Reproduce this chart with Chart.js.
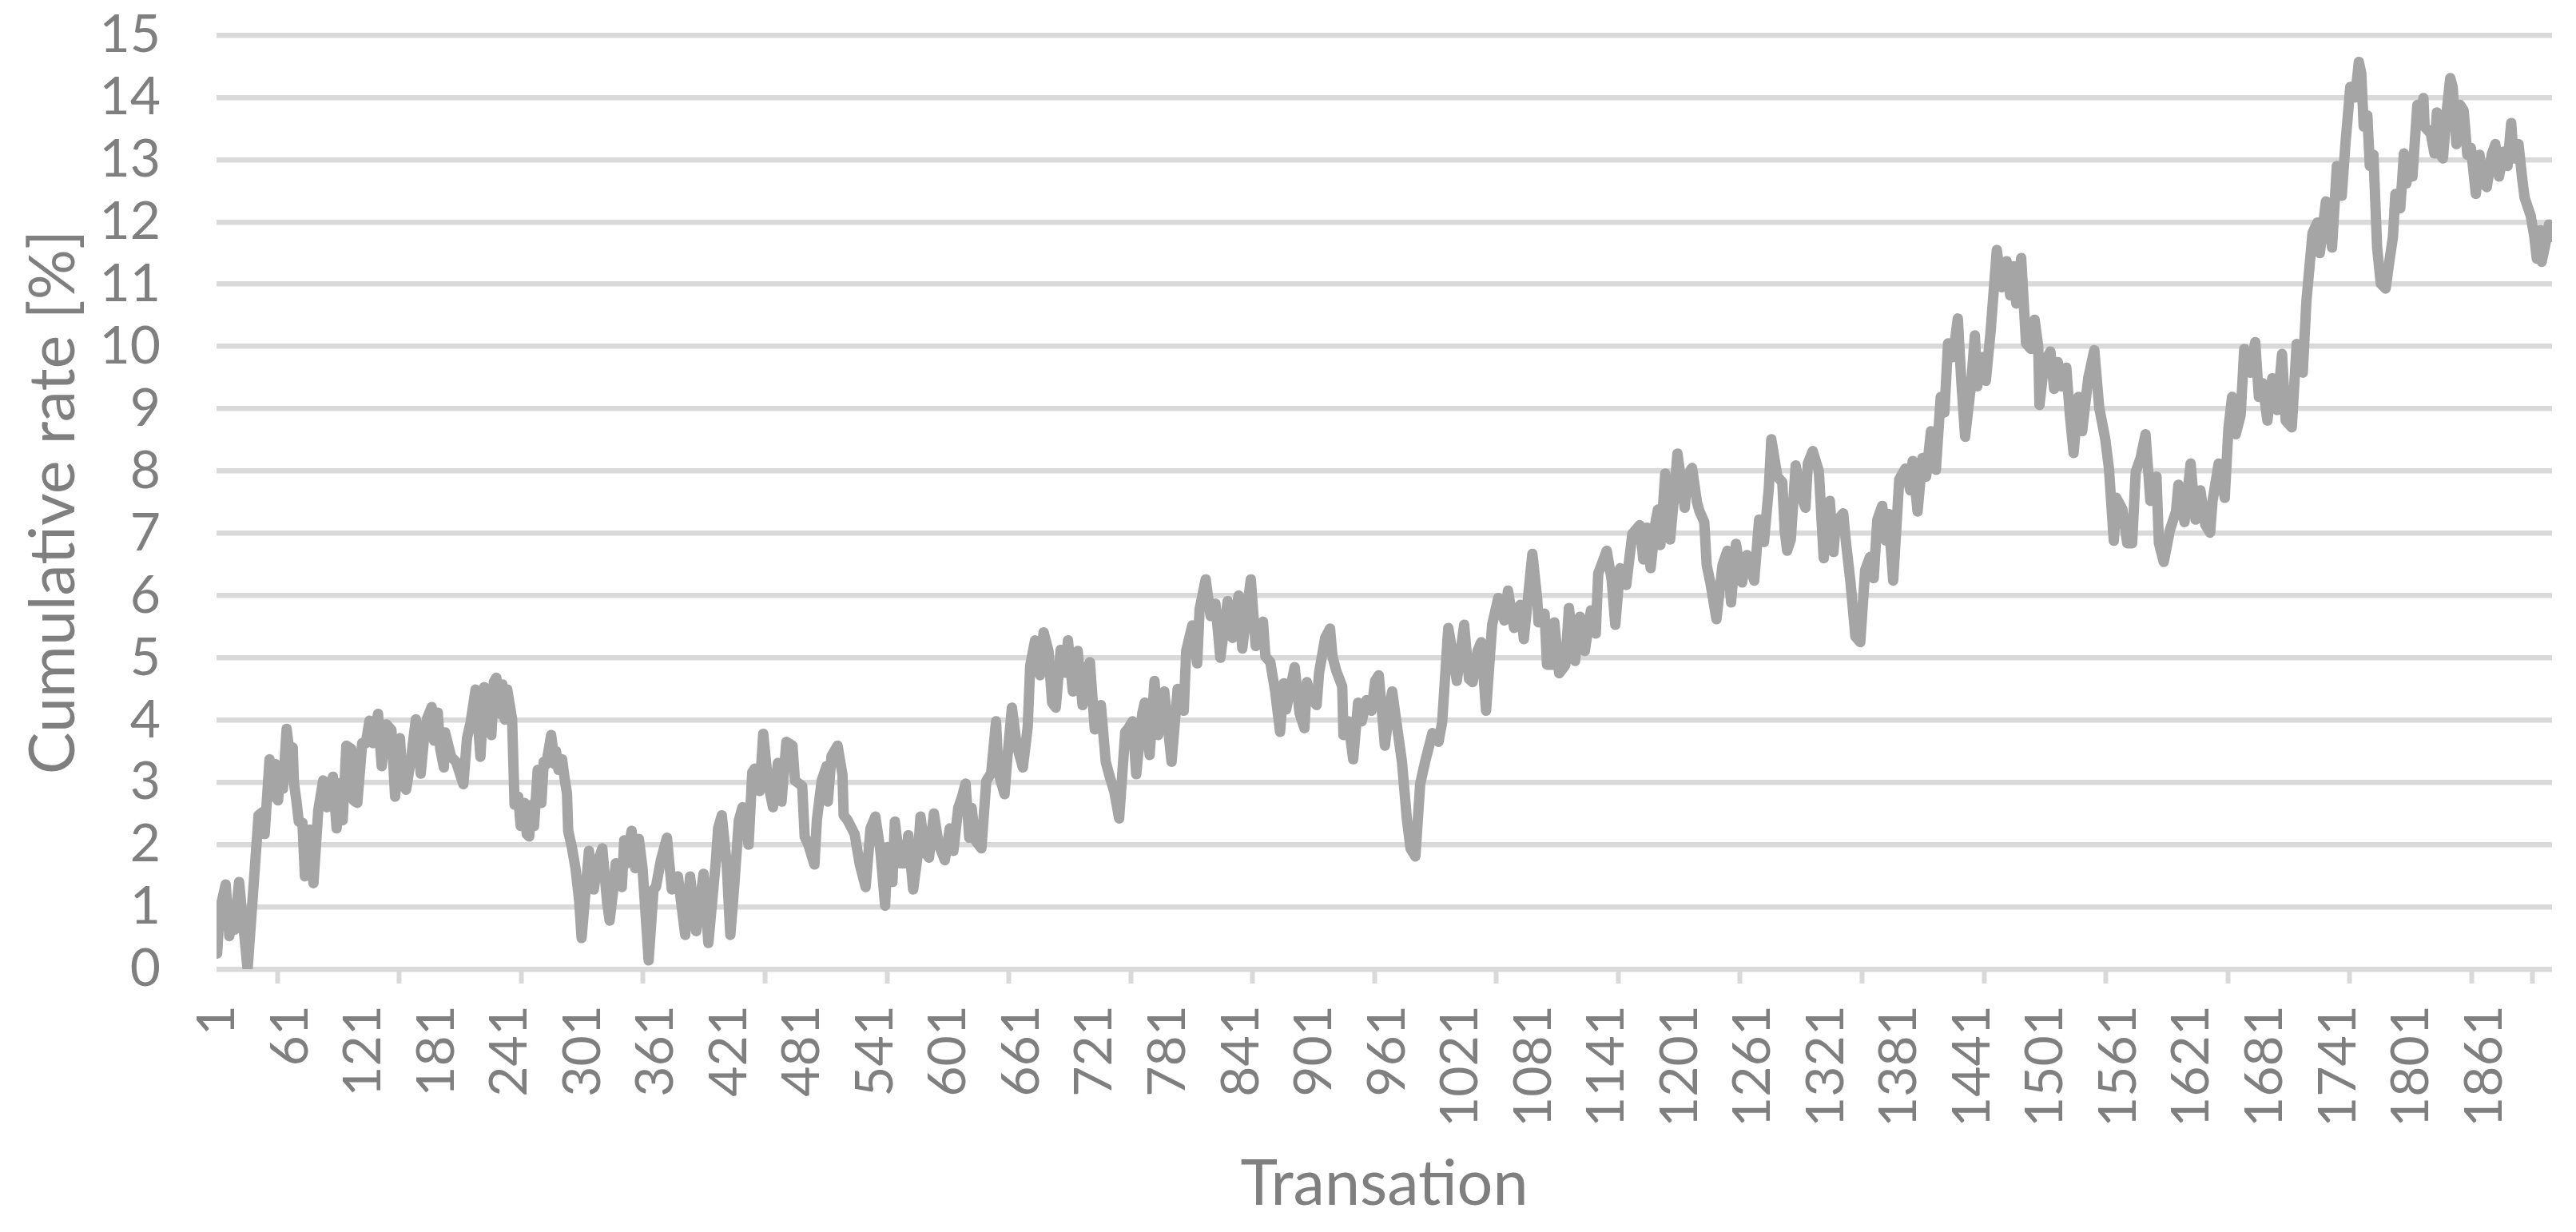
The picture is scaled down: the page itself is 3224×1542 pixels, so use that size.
<!DOCTYPE html>
<html>
<head>
<meta charset="utf-8">
<title>Cumulative rate</title>
<script src="https://cdn.jsdelivr.net/npm/chart.js@4.4.1/dist/chart.umd.min.js"></script>
<style>
  html, body { margin: 0; padding: 0; background: #fff; }
  canvas { display: block; }
</style>
</head>
<body>
<canvas id="rateChart" width="3224" height="1542"></canvas>
<script>
// transaction number and cumulative rate [%] (turning points)
const transaction = [
  1, 3, 8, 11, 13, 15, 19, 22, 26, 35, 38, 40, 44, 47, 49, 51, 53, 55, 58, 60,
  63, 64, 66, 68, 71, 73, 77, 80, 84, 88, 91, 93, 96, 99, 102, 104, 107, 111, 113, 116,
  120, 123, 126, 129, 133, 136, 140, 144, 147, 151, 153, 156, 160, 164, 166, 168, 171, 173, 177, 179,
  182, 184, 187, 188, 193, 197, 203, 206, 209, 213, 217, 220, 223, 226, 228, 230, 233, 235, 237, 239,
  243, 245, 248, 250, 253, 255, 257, 259, 261, 264, 267, 269, 271, 275, 278, 279, 281, 284, 286, 288,
  289, 292, 295, 298, 300,
  306, 310, 313, 317, 321, 323, 326, 328, 333, 335, 337, 341, 344, 347, 350, 355, 359, 361, 365, 370,
  374, 379, 385, 389, 394, 400, 404, 410, 412, 415, 419, 422, 425, 429, 432, 437, 440, 442, 446, 449,
  453, 457, 461, 464, 468, 473, 475, 481, 483, 486, 491, 493, 497, 501, 502, 505, 510, 514, 515, 518,
  524, 528, 533, 537, 541, 545, 549, 551, 555, 557, 561, 565, 568, 572, 576, 578, 582, 585, 589, 593,
  598, 602,
  605, 609, 612, 615, 618, 620, 623, 628, 632, 636, 640, 642, 647, 649, 653, 657, 662, 666, 668, 672,
  676, 679, 683, 686, 689, 693, 697, 699, 703, 707, 711, 713, 717, 721, 726, 730, 733, 737, 741, 746,
  748, 752, 755, 760, 762, 766, 770, 773, 778, 784, 789, 794, 796, 801, 805, 807, 812, 816, 820, 824,
  830, 834, 839, 842, 849, 853, 859, 861, 865, 869, 873, 876, 878, 885, 889, 893, 895, 899, 903, 905,
  910, 914, 916, 919, 924, 925, 929, 933, 937, 940, 944, 948, 951, 954, 959, 963, 965, 969, 973, 977,
  980, 984, 988,
  992, 998, 1003, 1006, 1011, 1015, 1018, 1024, 1028, 1031, 1035, 1038, 1042, 1047, 1052, 1057, 1060, 1065, 1070, 1073,
  1080, 1084, 1085, 1090, 1092, 1096, 1098, 1102, 1107, 1110, 1115, 1119, 1123, 1128, 1132, 1134, 1141, 1145, 1148, 1152,
  1157, 1162, 1168, 1171, 1174, 1177, 1181, 1183, 1185, 1189, 1193, 1196, 1199, 1205, 1207, 1211, 1215, 1217, 1221, 1223,
  1226, 1231, 1236, 1240, 1243, 1247, 1252, 1256, 1262, 1266, 1270, 1274, 1276, 1281, 1285, 1287, 1289, 1292, 1296, 1300,
  1304, 1306, 1310, 1315, 1319, 1324, 1327, 1329, 1335, 1337, 1341, 1345, 1349,
  1353, 1357, 1360, 1363, 1367, 1370, 1372, 1376, 1381, 1386, 1390, 1392, 1396, 1400, 1403, 1407, 1411, 1415, 1418, 1421,
  1425, 1429, 1432, 1435, 1440, 1443, 1445, 1449, 1452, 1456, 1461, 1465, 1469, 1472, 1475, 1477, 1481, 1484, 1485, 1489,
  1492, 1495, 1496, 1500, 1505, 1508, 1511, 1514, 1518, 1521, 1524, 1528, 1531, 1536, 1541, 1545, 1550, 1553, 1557, 1559,
  1564, 1568, 1572, 1575, 1579, 1583, 1587, 1592, 1594, 1598, 1603, 1608, 1610, 1615, 1620, 1624, 1628, 1632, 1636, 1638,
  1643, 1648, 1651, 1654, 1657, 1661, 1664, 1669, 1673, 1676, 1679, 1683, 1687, 1691, 1695, 1698, 1703,
  1707, 1712, 1715, 1720, 1724, 1726, 1731, 1736, 1740, 1744, 1747, 1751, 1755, 1758, 1760, 1762, 1765, 1767, 1770, 1773,
  1776, 1780, 1783, 1786, 1788, 1792, 1795, 1797, 1800, 1802, 1806, 1809, 1811, 1812, 1817, 1820, 1822, 1825, 1827, 1830,
  1833, 1835, 1838, 1841, 1844, 1847, 1850, 1854, 1857, 1860, 1863, 1867, 1870, 1873, 1877, 1880, 1883, 1885, 1889, 1892,
  1894, 1899, 1902, 1904, 1907, 1908, 1911, 1914, 1916
];
const rate = [
  0.25, 0.93, 1.36, 0.53, 1.02, 0.63, 1.40, 0.80, 0.00, 2.47, 2.52, 2.17, 3.37, 2.77, 3.29, 2.71, 3.24, 2.90, 3.86, 3.54,
  3.56, 2.99, 2.71, 2.37, 2.35, 1.49, 2.24, 1.38, 2.56, 3.03, 2.60, 2.82, 3.09, 2.26, 2.99, 2.39, 3.59, 3.54, 2.71, 2.67,
  3.63, 3.63, 3.99, 3.63, 4.10, 3.26, 3.93, 3.84, 2.77, 3.71, 2.99, 2.88, 3.37, 4.01, 3.63, 3.14, 3.76, 4.01, 4.21, 3.67,
  4.12, 3.54, 3.24, 3.80, 3.41, 3.33, 2.97, 3.71, 3.97, 4.49, 3.41, 4.53, 4.19, 3.76, 4.61, 4.68, 4.10, 4.57, 4.01, 4.49,
  4.01, 2.64, 2.77, 2.30, 2.67, 2.17, 2.13, 2.64, 2.30, 3.20, 2.67, 3.33, 3.29, 3.76, 3.29, 3.50, 3.20, 3.37, 3.07, 2.82,
  2.22, 1.96, 1.62, 1.10, 0.50,
  1.90, 1.28, 1.70, 1.94, 1.06, 0.78, 1.28, 1.70, 1.32, 2.07, 1.70, 2.22, 1.62, 2.09, 1.62, 0.14, 1.28, 1.32, 1.75, 2.11,
  1.28, 1.49, 0.55, 1.49, 0.61, 1.53, 0.42, 1.70, 2.26, 2.47, 1.70, 0.55, 1.28, 2.39, 2.60, 2.00, 3.16, 3.22, 2.86, 3.78,
  2.99, 2.60, 3.31, 2.69, 3.65, 3.59, 3.03, 2.94, 2.13, 2.00, 1.68, 2.39, 3.03, 3.26, 2.69, 3.42, 3.59, 3.12, 2.47, 2.40,
  2.17, 1.70, 1.32, 2.26, 2.45, 1.92, 1.02, 1.96, 1.40, 2.37, 1.70, 1.70, 2.15, 1.28, 1.87, 2.45, 1.87, 1.79, 2.50, 2.00,
  1.75, 2.26,
  1.90, 2.59, 2.76, 2.98, 2.11, 2.59, 2.07, 1.94, 3.02, 3.15, 3.98, 3.15, 2.81, 3.33, 4.20, 3.59, 3.24, 3.89, 4.87, 5.28,
  4.72, 5.41, 5.11, 4.28, 4.20, 5.13, 4.76, 5.28, 4.46, 5.11, 4.24, 4.76, 4.93, 3.85, 4.24, 3.33, 3.11, 2.85, 2.42, 3.81,
  3.85, 3.98, 3.13, 4.11, 4.28, 3.44, 4.63, 3.76, 4.46, 3.33, 4.50, 4.15, 5.11, 5.52, 4.91, 5.78, 6.26, 5.67, 5.87, 5.00,
  5.91, 5.32, 6.00, 5.15, 6.26, 5.19, 5.58, 5.02, 4.93, 4.46, 3.81, 4.59, 4.17, 4.85, 4.11, 3.87, 4.61, 4.33, 4.24, 4.76,
  5.32, 5.47, 5.02, 4.80, 4.54, 3.76, 3.98, 3.37, 4.28, 3.98, 4.32, 4.15, 4.63, 4.72, 3.59, 4.24, 4.46, 3.89, 3.33, 2.42,
  1.94, 1.81, 2.98,
  3.33, 3.79, 3.65, 3.97, 5.48, 5.02, 4.63, 5.53, 4.66, 4.61, 5.11, 5.25, 4.15, 5.53, 5.96, 5.60, 6.08, 5.48, 5.85, 5.30,
  6.67, 5.94, 5.57, 5.71, 4.89, 4.89, 5.57, 4.75, 4.88, 5.80, 4.95, 5.66, 5.11, 5.76, 5.39, 6.35, 6.72, 6.26, 5.53, 6.44,
  6.17, 6.99, 7.13, 6.58, 7.09, 6.44, 7.18, 7.38, 6.81, 7.96, 6.90, 7.54, 8.28, 7.41, 7.91, 8.05, 7.50, 7.36, 7.18, 6.49,
  6.21, 5.62, 6.49, 6.72, 5.89, 6.83, 6.21, 6.65, 6.24, 7.22, 6.86, 7.73, 8.51, 7.91, 7.82, 7.04, 6.72, 6.90, 8.09, 7.64,
  7.41, 8.12, 8.32, 8.00, 6.60, 7.52, 6.70, 7.18, 7.32, 6.90, 6.21, 5.34, 5.25,
  6.41, 6.62, 6.28, 7.22, 7.44, 6.88, 7.31, 6.24, 7.87, 8.04, 7.69, 8.16, 7.35, 8.21, 7.91, 8.64, 8.02, 9.19, 8.94, 10.05,
  9.83, 10.45, 9.41, 8.55, 9.41, 10.18, 9.36, 9.83, 9.45, 10.26, 11.55, 10.95, 11.37, 10.82, 11.29, 10.69, 11.42, 10.39, 10.05, 9.96,
  10.43, 10.00, 9.06, 9.75, 9.92, 9.32, 9.75, 9.36, 9.66, 8.89, 8.29, 9.19, 8.64, 9.49, 9.94, 9.02, 8.51, 8.04, 6.88, 7.57,
  7.39, 6.84, 6.84, 7.99, 8.21, 8.59, 7.52, 7.91, 6.84, 6.54, 7.05, 7.35, 7.78, 7.18, 8.12, 7.22, 7.69, 7.14, 7.01, 7.52,
  8.12, 7.57, 8.68, 9.19, 8.59, 8.89, 9.96, 9.58, 10.07, 9.19, 9.41, 8.81, 9.49, 8.98, 9.88, 8.81, 8.70,
  10.04, 9.58, 10.73, 11.82, 11.99, 11.50, 12.33, 11.59, 12.90, 12.42, 13.25, 14.17, 14.00, 14.57, 14.39, 13.53, 13.71, 12.90, 13.08, 11.59,
  11.01, 10.93, 11.36, 11.76, 12.45, 12.22, 13.10, 12.62, 13.02, 12.73, 13.88, 13.59, 13.99, 13.53, 13.42, 13.10, 13.76, 13.08, 13.02, 13.76,
  14.31, 14.17, 13.25, 13.88, 13.79, 13.08, 13.19, 12.45, 13.08, 12.62, 12.56, 13.08, 13.25, 12.73, 13.13, 12.90, 13.59, 13.02, 13.25, 12.70,
  12.39, 12.10, 11.76, 11.41, 11.87, 11.36, 11.64, 11.96, 11.76
];

const nTransactions = 1916;
const xTickLabels = [
  1, 61, 121, 181, 241, 301, 361, 421, 481, 541, 601, 661, 721, 781, 841, 901,
  961, 1021, 1081, 1141, 1201, 1261, 1321, 1381, 1441, 1501, 1561, 1621, 1681, 1741, 1801, 1861
];
// small tick marks under the axis sit between categories
const xTickMarks = [
  50.5, 150.5, 250.5, 350.5, 450.5, 550.5, 650.5, 750.5, 850.5, 950.5,
  1050.5, 1150.5, 1250.5, 1350.5, 1450.5, 1550.5, 1650.5, 1750.5, 1850.5, 1900.5
];
const yMin = 0;
const yMax = 15;

const textGray = "#7f7f7f";
const gridGray = "#d9d9d9";
const lineGray = "#a5a5a5";
const fontFamily = "Lato, 'Open Sans', sans-serif";

new Chart(document.getElementById("rateChart"), {
  type: "line",
  data: {
    datasets: [
      {
        data: transaction.map((t, i) => ({ x: t, y: rate[i] })),
        borderColor: lineGray,
        borderWidth: 13,
        borderJoinStyle: "round",
        borderCapStyle: "round",
        pointRadius: 0,
        tension: 0,
      },
    ],
  },
  options: {
    responsive: false,
    animation: false,
    devicePixelRatio: 1,
    layout: { padding: { left: 20, top: 44, right: 30, bottom: 0 } },
    plugins: {
      legend: { display: false },
      tooltip: { enabled: false },
    },
    scales: {
      x: {
        type: "linear",
        min: 0.5,
        max: nTransactions + 0.5,
        afterBuildTicks: (scale) => {
          scale.ticks = [...xTickLabels, ...xTickMarks]
            .sort((a, b) => a - b)
            .map((v) => ({ value: v }));
        },
        afterFit: (scale) => {
          scale.height = 329;
          scale.paddingLeft = 0;
          scale.paddingRight = 0;
        },
        border: { display: false },
        grid: {
          drawOnChartArea: false,
          drawTicks: true,
          tickLength: 18,
          tickWidth: 6,
          tickColor: (ctx) =>
            ctx.tick && xTickMarks.includes(ctx.tick.value) ? gridGray : "rgba(0,0,0,0)",
        },
        ticks: {
          autoSkip: false,
          minRotation: 90,
          maxRotation: 90,
          padding: 27,
          color: textGray,
          font: { family: fontFamily, size: 66 },
          callback: (value) => (xTickLabels.includes(value) ? String(value) : ""),
        },
        title: {
          display: true,
          text: "Transation",
          color: textGray,
          font: { family: fontFamily, size: 79 },
          padding: { top: 0, bottom: 12 },
        },
      },
      y: {
        min: yMin,
        max: yMax,
        afterFit: (scale) => {
          scale.width = 251;
          scale.paddingTop = 0;
          scale.paddingBottom = 0;
        },
        border: { display: false },
        grid: {
          color: gridGray,
          lineWidth: 6.5,
          drawTicks: false,
        },
        ticks: {
          stepSize: 1,
          autoSkip: false,
          padding: 70,
          color: textGray,
          font: { family: fontFamily, size: 66 },
        },
        title: {
          display: true,
          text: "Cumulative rate [%]",
          color: textGray,
          font: { family: fontFamily, size: 79 },
          padding: 0,
        },
      },
    },
  },
});
</script>
</body>
</html>
